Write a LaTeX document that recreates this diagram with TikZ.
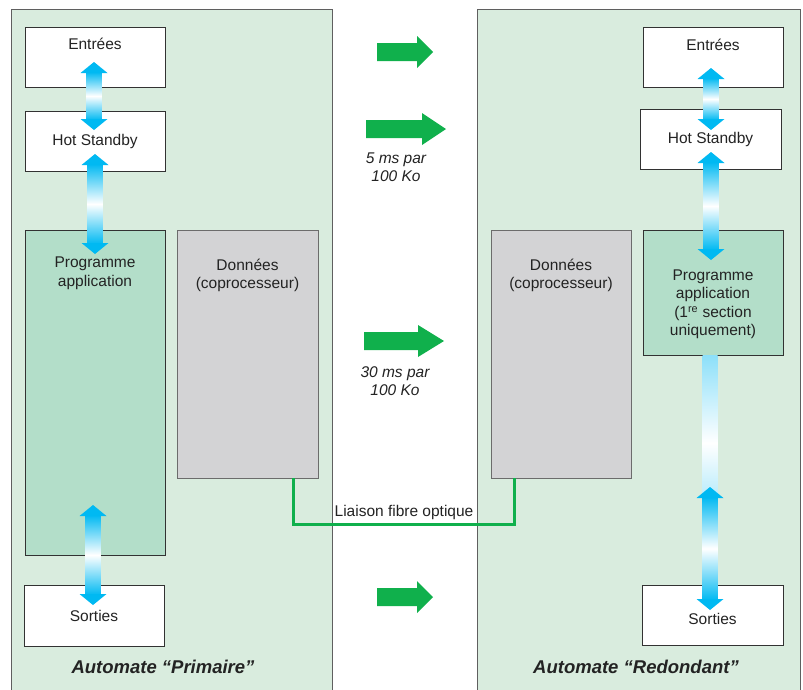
\documentclass[tikz,border=0pt]{standalone}
\usepackage{fontspec}
\setmainfont{Liberation Sans}
\usepackage{xcolor}
\usetikzlibrary{arrows.meta,positioning,calc}

\definecolor{panelgreen}{RGB}{217,236,222}
\definecolor{panelline}{RGB}{95,95,95}
\definecolor{progfill}{RGB}{179,222,201}
\definecolor{datafill}{RGB}{211,211,213}
\definecolor{boxline}{RGB}{50,50,50}
\definecolor{arrowgreen}{RGB}{16,176,76}
\definecolor{flowcyan}{RGB}{0,185,242}
\definecolor{txtgray}{RGB}{35,35,35}

\newcommand\flowarrow[2]{%
  \shade[flowshaft] let \p1=(#1), \p2=(#2) in
    (\x1-7.5pt,\y1-10pt) rectangle (\x2+7.5pt,\y2+10pt);
  \fill[flowcyan] let \p1=(#1), \p2=(#2) in
    (#1) -- (\x1-13.5pt,\y1-11pt) -- (\x1+13.5pt,\y1-11pt) -- cycle
    (#2) -- (\x2-13.5pt,\y2+11pt) -- (\x2+13.5pt,\y2+11pt) -- cycle;}
\newcommand\greenarrow[4]{%
  \fill[arrowgreen] (#1,#2-9) -- ++(#3,0) -- ++(0,-7) -- ++(#4,16)
    -- ++(-#4,16) -- ++(0,-7) -- ++(-#3,0) -- cycle;}

\begin{document}
\begin{tikzpicture}[x=1pt, y=-1pt,
  every node/.style={font=\fontsize{15.5}{18.5}\selectfont, text=txtgray},
  panel/.style={draw=panelline, fill=panelgreen, line width=0.8pt, inner sep=0pt, minimum height=700pt},
  whitebox/.style={draw=boxline, fill=white, line width=0.8pt, minimum width=140pt, minimum height=60pt, align=center},
  progbox/.style={whitebox, fill=progfill},
  databox/.style={whitebox, fill=datafill, draw=gray!85!black},
  boxtitle/.style={inner sep=0pt, align=center},
  rate/.style={font=\fontsize{15.5}{18}\selectfont\itshape, align=center},
  plclabel/.style={font=\fontsize{18.5}{21}\selectfont\bfseries\itshape},
  flowshaft/.style={top color=flowcyan, bottom color=flowcyan, middle color=white},
  flowpale/.style={top color=flowcyan!45, bottom color=flowcyan!45, middle color=white},
  fibre/.style={draw=arrowgreen, line width=3pt}]
  \path[use as bounding box, clip] (0,0) rectangle (803,689);
  \fill[white] (0,0) rectangle (803,689);
  \node[panel, minimum width=321pt] (prim) at (171.5,359) {};
  \node[panel, minimum width=323pt] (redo) at (638.5,359) {};

  \greenarrow{377}{52}{40}{16}
  \greenarrow{366}{129}{56}{24}
  \greenarrow{364}{341}{54}{26}
  \greenarrow{377}{597}{40}{16}
  \node[rate] (r5) at (396,167) {5 ms par\\100 Ko};
  \node[rate] (r30) at (395,381) {30 ms par\\100 Ko};

  \node[whitebox] (ein) at (95,57) {};
  \node[whitebox] (hsb) at (95,141) {Hot Standby};
  \node[progbox, minimum height=325pt] (prog) at (95,392.5) {};
  \node[databox, minimum width=141pt, minimum height=248pt] (don) at (247.5,354) {};
  \node[whitebox, minimum height=61pt] (sor) at (94,615.5) {Sorties};
  \node[boxtitle, below=11pt of ein.north] (ein-t) {Entrées};
  \node[boxtitle, below=27.5pt of prog.north] (prog-t) {Programme\\application};
  \node[boxtitle, below=29pt of don.north] (don-t) {Données\\(coprocesseur)};

  \node[whitebox] (ein2) at (713,57) {};
  \node[whitebox, minimum width=141pt] (hsb2) at (710.5,139) {Hot Standby};
  \node[databox, minimum height=248pt] (don2) at (561,354) {};
  \node[progbox, minimum height=125pt] (prog2) at (713,292.5) {};
  \node[whitebox, minimum width=141pt] (sor2) at (712.5,615) {};
  \node[boxtitle, below=12pt of ein2.north] (ein2-t) {Entrées};
  \node[boxtitle, below=29pt of don2.north] (don2-t) {Données\\(coprocesseur)};
  \node[boxtitle, below=40pt of prog2.north] (prog2-t) {Programme\\application\\(1\textsuperscript{re} section\\uniquement)};
  \node[boxtitle, below=28pt of sor2.north] (sor2-t) {Sorties};

  \draw[fibre] ([xshift=-25pt]don.south east) -- ++(0,46.5)
    -| node[pos=0.25, above] (fib-t) {Liaison fibre optique} ([xshift=24pt]don2.south west);

  \coordinate (f1a) at (94,62);  \coordinate (f1b) at (94,130);
  \coordinate (f2a) at (95,154); \coordinate (f2b) at (95,254);
  \coordinate (f3a) at (93,505); \coordinate (f3b) at (93,605);
  \coordinate (g1a) at (711,68);  \coordinate (g1b) at (711,130);
  \coordinate (g2a) at (711,152); \coordinate (g2b) at (711,260);
  \coordinate (g3a) at (710,487); \coordinate (g3b) at (710,610);
  \shade[flowpale] (702.5,355) rectangle (717.5,531);
  \flowarrow{f1a}{f1b}
  \flowarrow{f2a}{f2b}
  \flowarrow{f3a}{f3b}
  \flowarrow{g1a}{g1b}
  \flowarrow{g2a}{g2b}
  \flowarrow{g3a}{g3b}

  \node[plclabel] (prim-l) at (163,667) {Automate “Primaire”};
  \node[plclabel] (redo-l) at (636,667) {Automate “Redondant”};
\end{tikzpicture}
\end{document}
